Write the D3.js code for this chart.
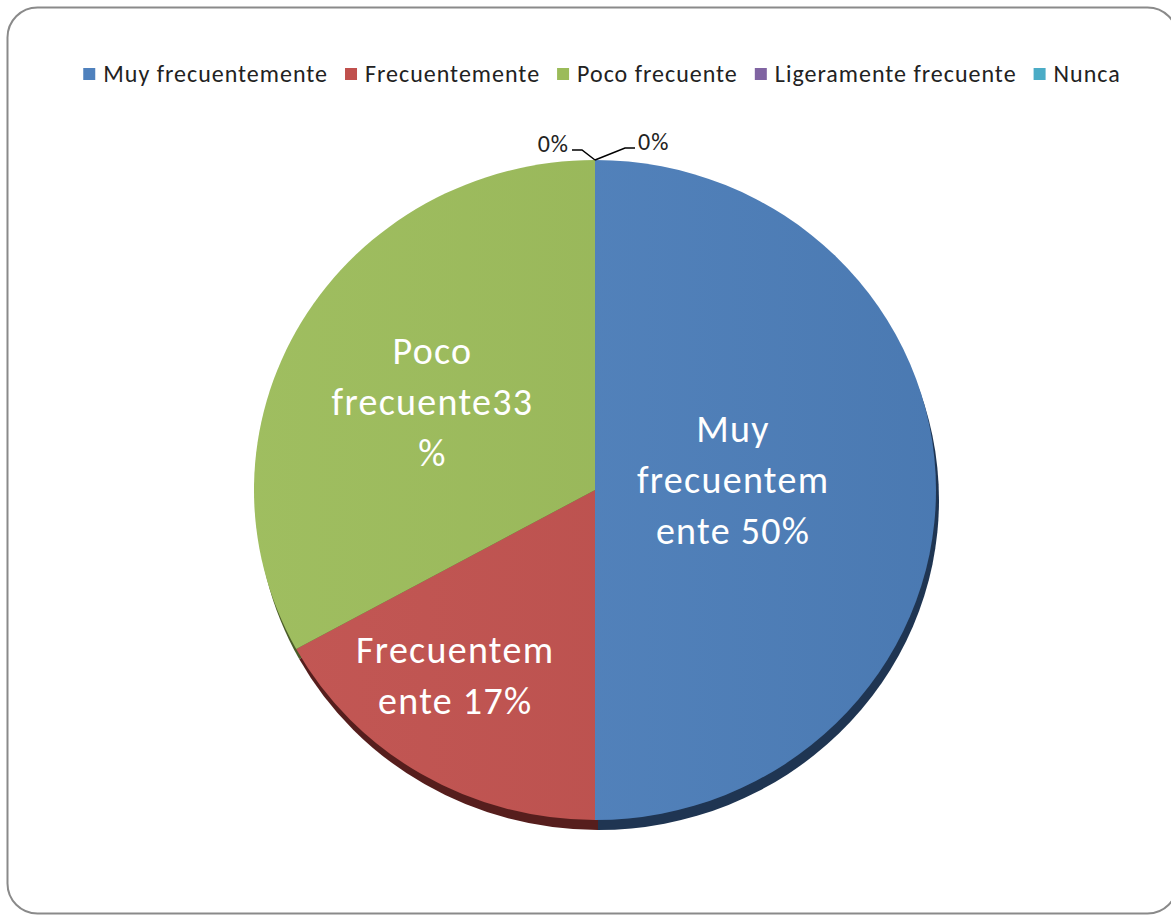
<!DOCTYPE html>
<html>
<head>
<meta charset="utf-8">
<script src="https://cdn.jsdelivr.net/npm/d3@7"></script>
<style>
  html, body { margin: 0; padding: 0; background: #fff; }
  svg { display: block; }
  text { font-family: Carlito, Calibri, Lato, "Open Sans", sans-serif; }
</style>
</head>
<body>
<svg id="chart" width="1171" height="915"></svg>
<script>
// Response categories and their shares (%)
const categories = ["Muy frecuentemente", "Frecuentemente", "Poco frecuente", "Ligeramente frecuente", "Nunca"];
const values = [50, 17, 33, 0, 0];
const colors = ["#4F81BD", "#C0504D", "#9BBB59", "#8064A2", "#4BACC6"];
const edgeColors = ["#1F3552", "#561E1D", "#4A5C28", "#3D2F52", "#205563"];
// Wrapped text of the in-slice data labels
const labelLines = [
  ["Muy", "frecuentem", "ente 50%"],
  ["Frecuentem", "ente 17%"],
  ["Poco", "frecuente33", "%"],
  ["0%"],
  ["0%"]
];

const svg = d3.select("#chart");

// Chart area frame
svg.append("rect")
  .attr("x", 7.5).attr("y", 7.5)
  .attr("width", 1170).attr("height", 906)
  .attr("rx", 30).attr("ry", 30)
  .attr("fill", "#fff")
  .attr("stroke", "#8a8a8a")
  .attr("stroke-width", 2);

// Legend
const legend = svg.append("g").attr("class", "legend");
const legendFont = 24, legendSpacing = 1;
let lx = 0;
categories.forEach((c, i) => {
  const g = legend.append("g");
  g.append("rect").attr("x", 0).attr("y", -14).attr("width", 12).attr("height", 12).attr("fill", colors[i]);
  const t = g.append("text").attr("x", 20).attr("y", 0)
    .attr("font-size", legendFont)
    .attr("letter-spacing", legendSpacing)
    .attr("fill", "#222").text(c);
  const w = 20 + t.node().getComputedTextLength();
  g.attr("transform", `translate(${lx},0)`);
  lx += w + 17;
});
const legendWidth = lx - 17;
legend.attr("transform", `translate(${602 - legendWidth / 2},82)`);

// Pie geometry (slightly tilted: vertical radius smaller)
const cx = 595, cy = 490, rx = 341, ry = 330, depthX = 3, depthY = 10;
const pie = d3.pie().sort(null).value(d => d);
const arcs = pie(values);
const arc = d3.arc().innerRadius(0).outerRadius(rx);

const defs = svg.append("defs");
const grad = defs.append("linearGradient").attr("id", "shade")
  .attr("x1", "0%").attr("x2", "100%").attr("y1", "0%").attr("y2", "0%");
grad.append("stop").attr("offset", "0%").attr("stop-color", "#fff").attr("stop-opacity", 0.04);
grad.append("stop").attr("offset", "100%").attr("stop-color", "#000").attr("stop-opacity", 0.06);

const sy = ry / rx;

// Side wall of the pie
svg.append("g")
  .attr("transform", `translate(${cx + depthX},${cy + depthY}) scale(1,${sy})`)
  .selectAll("path").data(arcs).join("path")
  .attr("d", arc)
  .attr("fill", (d, i) => edgeColors[i]);

// Top face
const face = svg.append("g")
  .attr("transform", `translate(${cx},${cy}) scale(1,${sy})`);
face.selectAll("path").data(arcs).join("path")
  .attr("d", arc)
  .attr("fill", (d, i) => colors[i]);
face.append("circle").attr("r", rx).attr("fill", "url(#shade)");

// Data labels inside slices (best-fit placement around the mid-angle ray)
const labelRadius = [0.405, 0.69, 0.54];
const labelShift = [[0, -10], [-20, -10], [-4, 3]];
const lineH = 51, labelFont = 38, labelSpacing = 1.3;
arcs.forEach((a, i) => {
  if (values[i] === 0) return;
  const mid = (a.startAngle + a.endAngle) / 2;
  const r = labelRadius[i];
  const x = cx + Math.sin(mid) * rx * r + labelShift[i][0];
  const y = cy - Math.cos(mid) * ry * r + labelShift[i][1];
  const lines = labelLines[i];
  const t = svg.append("text")
    .attr("text-anchor", "middle")
    .attr("font-size", labelFont)
    .attr("letter-spacing", labelSpacing)
    .attr("fill", "#fff");
  lines.forEach((ln, k) => {
    t.append("tspan")
      .attr("x", x)
      .attr("y", y + (k - (lines.length - 1) / 2) * lineH + 12.6)
      .text(ln);
  });
});

// Zero-value slices: labels outside with leader lines
const zeroIdx = values.map((v, i) => v === 0 ? i : -1).filter(i => i >= 0);
zeroIdx.forEach((i, k) => {
  const a = arcs[i];
  const px = cx + Math.sin(a.startAngle) * rx;
  const py = cy - Math.cos(a.startAngle) * ry;
  const side = k === 0 ? -1 : 1;
  const elbowX = px + side * (k === 0 ? 13 : 30);
  const elbowY = py - (k === 0 ? 10 : 12);
  const endX = elbowX + side * 10;
  svg.append("path")
    .attr("d", `M${px},${py}L${elbowX},${elbowY}L${endX},${elbowY}`)
    .attr("fill", "none").attr("stroke", "#000").attr("stroke-width", 1.5);
  svg.append("text")
    .attr("x", endX + side * 3)
    .attr("y", elbowY + 2)
    .attr("text-anchor", side < 0 ? "end" : "start")
    .attr("font-size", 24)
    .attr("letter-spacing", 1)
    .attr("fill", "#222")
    .text(labelLines[i][0]);
});
</script>
</body>
</html>
